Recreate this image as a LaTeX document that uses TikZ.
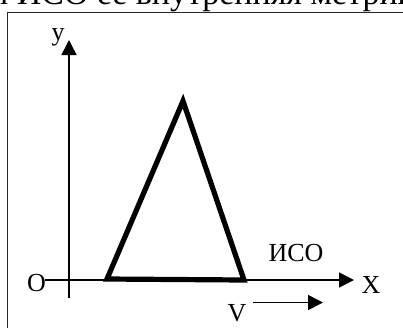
\documentclass[tikz,border=0pt]{standalone}
\usepackage{fontspec}
\setmainfont{Liberation Serif}
\usetikzlibrary{arrows.meta}
\tikzset{
  lbl/.style={inner sep=0pt, font=\fontsize{26}{30}\selectfont},
  axis/.style={line width=1.6pt, -{Triangle[length=15pt,width=15pt]}},
  body/.style={line width=5.2pt, line join=miter},
  frame/.style={line width=1.8pt, draw=black!85}
}
\begin{document}
\begin{tikzpicture}[x=1pt,y=-1pt]
\useasboundingbox (0,0) rectangle (403,327);
\clip (0,0) rectangle (403,327);
% cut-off caption line above the frame
\node[anchor=base west, inner sep=0pt, font=\fontsize{34}{40}\selectfont] (cap) at (-10,4.5) {и ИСО ее внутренняя метрика};
% frame (continues past right and bottom edges)
\draw[frame] (420,12.5) -- (7.5,12.5) -- (7.5,340);
% axes
\coordinate (ybot) at (69,298);
\coordinate (ytop) at (69,40);
\coordinate (xleft) at (45,280);
\coordinate (xright) at (354,280);
\draw[axis] (ybot) -- (ytop);
\draw[axis] (xleft) -- (xright);
% triangle
\coordinate (apex) at (183,101);
\coordinate (bl) at (107,279);
\coordinate (br) at (244,280);
\draw[body] (bl) -- (apex) -- (br) -- cycle;
% velocity arrow
\coordinate (vs) at (253,302.5);
\coordinate (ve) at (323,302.5);
\draw[axis] (vs) -- (ve);
% labels
\node[lbl] (ylab) at (58,37) {y};
\node[lbl] (olab) at (36.5,283.5) {O};
\node[lbl] (xlab) at (371,285) {X};
\node[lbl] (iso) at (296,253.5) {ИСО};
\node[lbl] (vlab) at (237,313) {V};
\end{tikzpicture}
\end{document}
